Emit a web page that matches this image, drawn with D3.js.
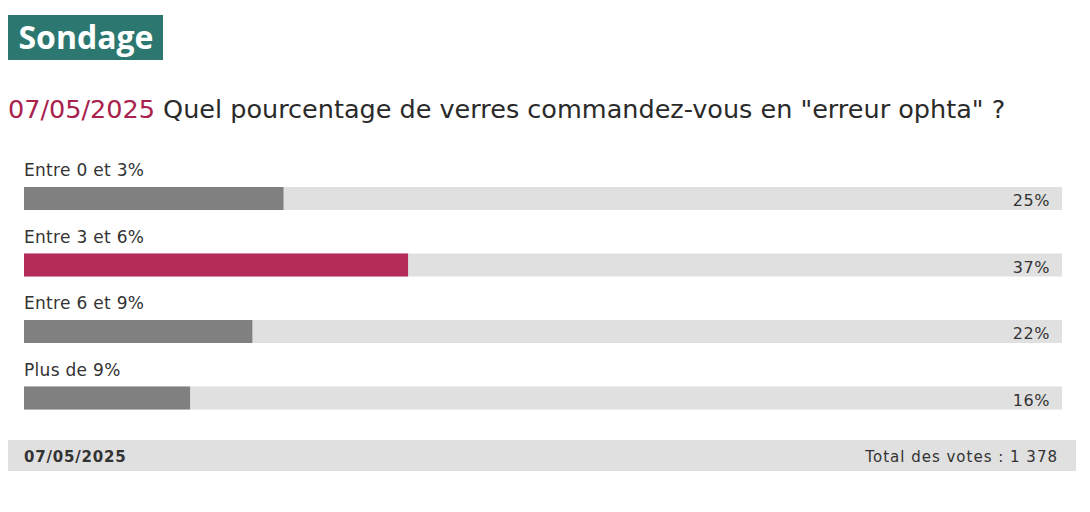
<!DOCTYPE html>
<html>
<head>
<meta charset="utf-8">
<script src="https://cdn.jsdelivr.net/npm/d3@7/dist/d3.min.js"></script>
<style>
  body { margin: 0; background: #fff; }
  svg { display: block; font-family: 'DejaVu Sans', 'Noto Sans', sans-serif; }
</style>
</head>
<body>
<div id="chart"></div>
<script>
// poll data
var pollDate = '07/05/2025';
var question = 'Quel pourcentage de verres commandez-vous en "erreur ophta" ?';
var answers = ['Entre 0 et 3%', 'Entre 3 et 6%', 'Entre 6 et 9%', 'Plus de 9%'];
var percents = [25, 37, 22, 16];
var totalVotes = '1 378';

var width = 1090;
var height = 512;
var barLeft = 24, barRight = 1062;

var svg = d3.select('#chart').append('svg')
            .attr('width', width)
            .attr('height', height);

// header badge
svg.append('rect')
   .attr('x', 8).attr('y', 15)
   .attr('width', 155).attr('height', 45)
   .attr('fill', '#2c7870');
svg.append('text')
   .attr('x', 86).attr('y', 49)
   .attr('text-anchor', 'middle')
   .attr('fill', '#fff')
   .attr('font-family', "'Open Sans', sans-serif")
   .attr('font-size', 32)
   .attr('font-weight', 'bold')
   .text('Sondage');

// question title
var title = svg.append('text')
               .attr('x', 8).attr('y', 118)
               .attr('font-size', 25.5)
               .attr('fill', '#2a2a2a');
title.append('tspan').attr('fill', '#a8224d').text(pollDate);
title.append('tspan').text(' ' + question);

// bars
var x = d3.scaleLinear().domain([0, 100]).range([barLeft, barRight]);
var row = d3.scaleBand().domain(answers).range([154, 420]);
var maxVal = d3.max(percents);

var rows = svg.append('g').selectAll('g').data(answers).enter()
              .append('g')
              .attr('transform', function(d) { return 'translate(0,' + row(d) + ')'; });

rows.append('text')
    .attr('x', barLeft).attr('y', 22)
    .attr('font-size', 17)
    .attr('letter-spacing', 0.3)
    .attr('fill', '#333')
    .text(function(d) { return d; });

rows.append('rect')
    .attr('x', barLeft).attr('y', 33)
    .attr('width', x(100) - x(0)).attr('height', 23)
    .attr('fill', '#e0e0e0');

rows.append('rect')
    .attr('x', barLeft).attr('y', 33)
    .attr('width', function(d, i) { return x(percents[i]) - x(0); })
    .attr('height', 23)
    .attr('fill', function(d, i) { return percents[i] === maxVal ? '#b52c58' : '#808080'; });

rows.append('text')
    .attr('x', 1050).attr('y', 52)
    .attr('text-anchor', 'end')
    .attr('font-size', 16)
    .attr('letter-spacing', 0.6)
    .attr('fill', '#333')
    .text(function(d, i) { return percents[i] + '%'; });

// footer
svg.append('rect')
   .attr('x', 8).attr('y', 440)
   .attr('width', 1068).attr('height', 31)
   .attr('fill', '#e0e0e0');
svg.append('text')
   .attr('x', 24).attr('y', 462)
   .attr('font-size', 15).attr('font-weight', 'bold')
   .attr('letter-spacing', 0.8)
   .attr('fill', '#333')
   .text(pollDate);
svg.append('text')
   .attr('x', 1058).attr('y', 462)
   .attr('text-anchor', 'end')
   .attr('font-size', 15)
   .attr('letter-spacing', 1)
   .attr('fill', '#333')
   .text('Total des votes : ' + totalVotes);
</script>
</body>
</html>
